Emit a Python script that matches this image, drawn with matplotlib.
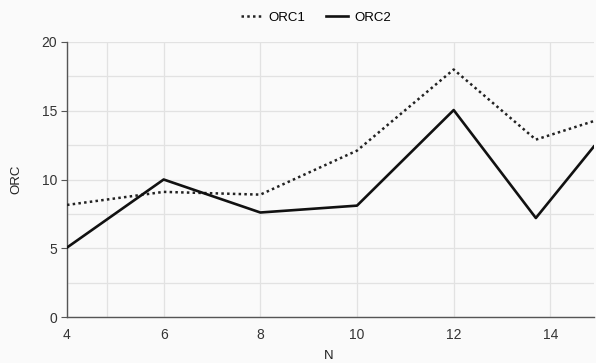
import matplotlib
matplotlib.use("Agg")
import matplotlib.pyplot as plt
from matplotlib.ticker import FixedLocator

plt.rcParams['font.family'] = ['Liberation Sans', 'DejaVu Sans']

n_values = [4, 6, 8, 10, 12, 13.7, 14.9]
orc1 = [8.15, 9.1, 8.9, 12.1, 18.0, 12.9, 14.25]
orc2 = [5.05, 10.0, 7.6, 8.1, 15.05, 7.2, 12.4]
x_ticks = [4, 6, 8, 10, 12, 14]
y_ticks = [0, 5, 10, 15, 20]

bg = '#fafafa'
fig = plt.figure(figsize=(5.96, 3.63), dpi=100, facecolor=bg)
ax = fig.add_axes([0.1124, 0.1267, 0.884, 0.7576], facecolor=bg)

ax.plot(n_values, orc1, color='#222222', lw=1.8, linestyle=(0, (1, 1.3)), label='ORC1', zorder=3)
ax.plot(n_values, orc2, color='#111111', lw=1.9, label='ORC2', zorder=3)

ax.set_xlim(4, 14.9)
ax.set_ylim(0, 20)
ax.set_xticks(x_ticks)
ax.set_yticks(y_ticks)
ax.xaxis.set_minor_locator(FixedLocator([4.83]))
ax.yaxis.set_minor_locator(FixedLocator([2.5, 7.5, 12.5, 17.5]))
ax.grid(True, which='both', color='#e2e2e2', lw=0.9, zorder=0)
ax.set_axisbelow(True)

for s in ['top', 'right']:
    ax.spines[s].set_visible(False)
for s in ['left', 'bottom']:
    ax.spines[s].set_color('#555555')
    ax.spines[s].set_linewidth(1.0)

ax.tick_params(axis='y', which='major', length=4, color='#555555', labelsize=10, labelcolor='#333333', pad=3)
ax.tick_params(axis='x', which='major', length=0, labelsize=10, labelcolor='#333333', pad=8)
ax.tick_params(which='minor', length=0)

ax.set_xlabel('N', fontsize=9.5, color='#222222')
ax.xaxis.set_label_coords(0.496, -0.12)
ax.set_ylabel('ORC', fontsize=9.5, color='#222222', labelpad=14)

leg = fig.legend(loc='upper center', bbox_to_anchor=(0.53, 1.0), ncol=2, frameon=False,
                 fontsize=9.5, handlelength=1.6, columnspacing=1.6, handletextpad=0.5)

fig.savefig('out.png', dpi=100, facecolor=bg)
